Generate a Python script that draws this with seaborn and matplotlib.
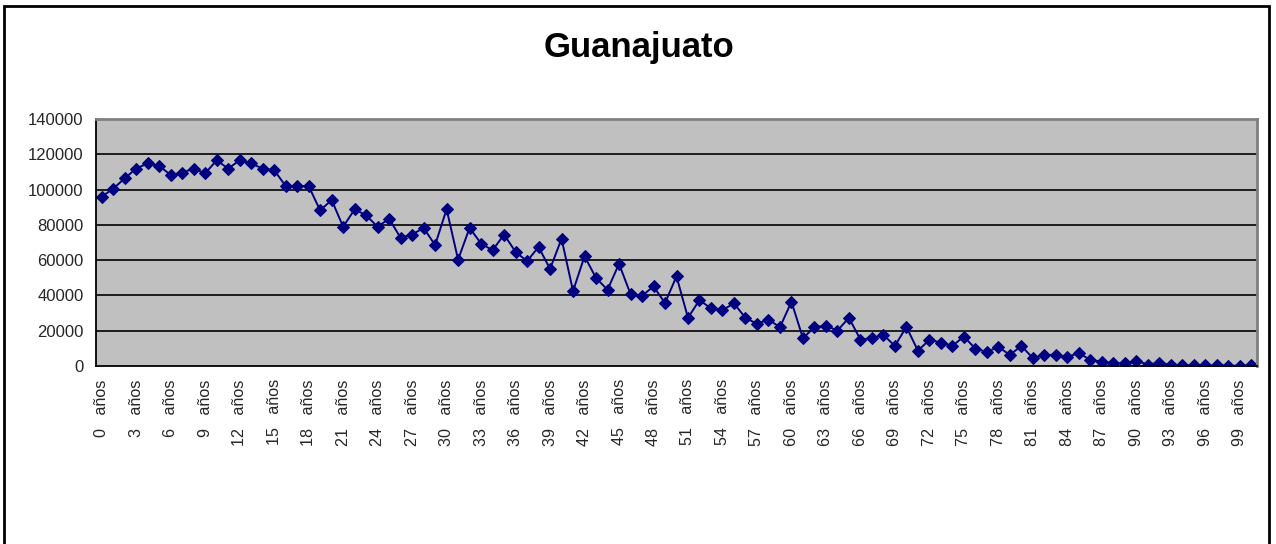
import matplotlib
matplotlib.use("Agg")
import matplotlib.pyplot as plt
import matplotlib.patches as mpatches
from matplotlib.ticker import FixedLocator
import numpy as np
import pandas as pd
import seaborn as sns

# Población por edad desplegada (0 a 100 años)
edades = list(range(0, 101))
poblacion = [
    96000, 100500, 106400, 111900, 114900, 113400, 108300, 109600, 111900, 109200,
    116600, 111900, 116600, 114800, 111900, 111000, 102000, 102000, 102000, 88200,
    94100, 78900, 88800, 85400, 78900, 83500, 72600, 74500, 78300, 68500,
    88900, 60300, 78300, 69400, 65600, 74500, 64700, 59400, 67500, 55000,
    72100, 42500, 62200, 49900, 43200, 57900, 40800, 39800, 45100, 35700,
    50800, 27300, 37400, 32600, 31700, 35500, 27300, 23900, 26300, 22000,
    36400, 15800, 22000, 22900, 20100, 27300, 15000, 15800, 17600, 11400,
    22200, 8700, 14800, 13300, 11400, 16700, 9800, 8000, 10800, 6300,
    11400, 4500, 6300, 6300, 5100, 7400, 3400, 2500, 1500, 1500,
    3000, 800, 1900, 600, 500, 400, 350, 300, 200, 100,
    500,
]
titulo = "Guanajuato"
etiquetas_x = [f"{e}   años" for e in edades[::3]]
valores_y = list(range(0, 140001, 20000))

df = pd.DataFrame({"edad": edades, "poblacion": poblacion})

sns.set_theme(style="white")
plt.rcParams["font.family"] = ["Liberation Sans", "DejaVu Sans"]

W, H = 1276, 544
fig = plt.figure(figsize=(W / 100, H / 100), dpi=100)
fig.patch.set_facecolor("white")

# marco exterior del gráfico
fig.add_artist(mpatches.Rectangle((4 / W, -0.01), (1269 - 4) / W, 1.01 - 6 / H,
                                  transform=fig.transFigure, fill=False,
                                  edgecolor="black", linewidth=2))

left, right, top, bottom = 96, 1257, 119, 366
ax = fig.add_axes([left / W, 1 - bottom / H, (right - left) / W, (bottom - top) / H])
ax.set_facecolor("#C0C0C0")

sns.lineplot(data=df, x="edad", y="poblacion", ax=ax, color="#000080",
             linewidth=1.4, marker="D", markersize=6.5,
             markeredgecolor="#000080", markerfacecolor="#000080")

ax.set_xlim(-0.5, 100.5)
ax.set_ylim(0, 140000)
ax.set_yticks(valores_y)
ax.set_yticklabels([str(v) for v in valores_y], fontsize=12)
ax.set_xticks(edades[::3])
ax.set_xticklabels(etiquetas_x, rotation=90, fontsize=11.6)
ax.xaxis.set_minor_locator(FixedLocator(np.arange(-0.5, 101, 1.0)))
ax.tick_params(axis="x", which="major", length=0, pad=9.5)
ax.tick_params(axis="x", which="minor", length=5, width=1, color="black", direction="inout")
ax.tick_params(axis="y", which="major", length=6, width=1, color="black",
               direction="inout", pad=6)
ax.set_xlabel("")
ax.set_ylabel("")

for v in valores_y[1:-1]:
    ax.axhline(v, color="black", linewidth=1.2, zorder=1)

for s in ["left", "bottom"]:
    ax.spines[s].set_color("black")
    ax.spines[s].set_linewidth(1.3)
for s in ["top", "right"]:
    ax.spines[s].set_color("#808080")
    ax.spines[s].set_linewidth(2)

fig.text(639 / W, 1 - 57 / H, titulo, ha="center", va="baseline",
         fontsize=25, fontweight="bold", color="black")

fig.savefig("out.png", dpi=100)
